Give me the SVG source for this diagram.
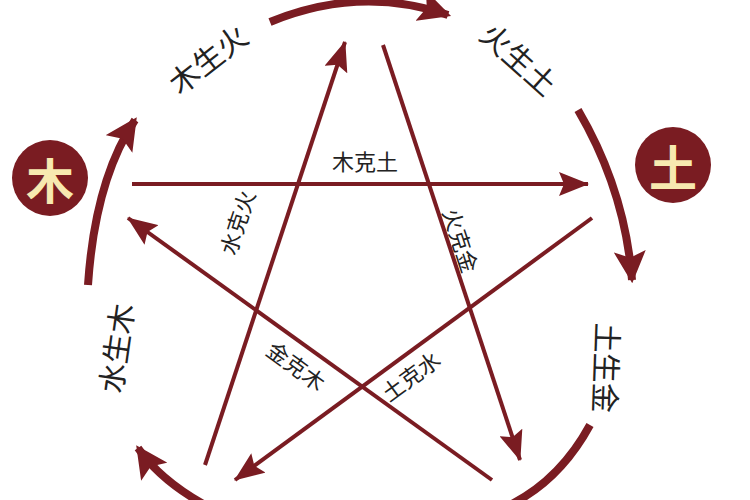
<svg xmlns="http://www.w3.org/2000/svg" width="750" height="500" viewBox="0 0 750 500">
<style>
.c{stroke:#7a1c22;fill:none;stroke-linecap:butt}
.k{stroke-width:4}
.s{stroke-width:8}
text{font-family:"Noto Sans CJK SC",sans-serif;fill:#222;text-anchor:middle;dominant-baseline:central}
.l{font-size:22px}
.m{font-size:30px}
.n{font-size:48px;fill:#f7e9b0;font-weight:bold}
</style>
<defs>
<marker id="a" viewBox="0 0 30 24" refX="29" refY="12" markerWidth="30" markerHeight="24" markerUnits="userSpaceOnUse" orient="auto"><path d="M0,0L30,12L0,24L5,12z" fill="#7a1c22"/></marker>
<marker id="b" viewBox="0 0 10 10" refX="9" refY="5" markerWidth="4" markerHeight="4" orient="auto"><path d="M0,0L10,5L0,10L2,5z" fill="#7a1c22"/></marker>
</defs>
<rect width="750" height="500" fill="#fff"/>
<g id="connectors">
<path class="c k" d="M132,184L588,184" marker-end="url(#a)"/>
<path class="c k" d="M205,465L345,42" marker-end="url(#a)"/>
<path class="c k" d="M383,45L520,460" marker-end="url(#a)"/>
<path class="c k" d="M592,218L235,480" marker-end="url(#a)"/>
<path class="c k" d="M492,480L128,218" marker-end="url(#a)"/>
</g>
<g id="cycle">
<path class="c s" d="M270,22Q360,-15 448,15" marker-end="url(#b)"/>
<path class="c s" d="M578,110Q625,190 632,280" marker-end="url(#b)"/>
<path class="c s" d="M590,425Q560,480 510,505"/>
<path class="c s" d="M205,505Q160,480 138,448" marker-end="url(#b)"/>
<path class="c s" d="M88,285Q95,180 135,120" marker-end="url(#b)"/>
</g>
<g id="wood"><circle cx="50" cy="178" r="38" fill="#7a1c22"/><text class="n" x="50" y="178">木</text></g>
<g id="earth"><circle cx="673" cy="165" r="38" fill="#7a1c22"/><text class="n" x="673" y="165">土</text></g>
<g id="labels">
<text class="m" transform="translate(207,58) rotate(-38)">木生火</text>
<text class="m" transform="translate(520,58) rotate(42)">火生土</text>
<text class="m" transform="translate(608,368) rotate(92)">土生金</text>
<text class="m" transform="translate(115,348) rotate(-82)">水生木</text>
<text class="l" x="365" y="160">木克土</text>
<text class="l" transform="translate(236,222) rotate(-72)">水克火</text>
<text class="l" transform="translate(462,240) rotate(72)">火克金</text>
<text class="l" transform="translate(297,365) rotate(36)">金克木</text>
<text class="l" transform="translate(410,375) rotate(-36)">土克水</text>
</g>
</svg>
